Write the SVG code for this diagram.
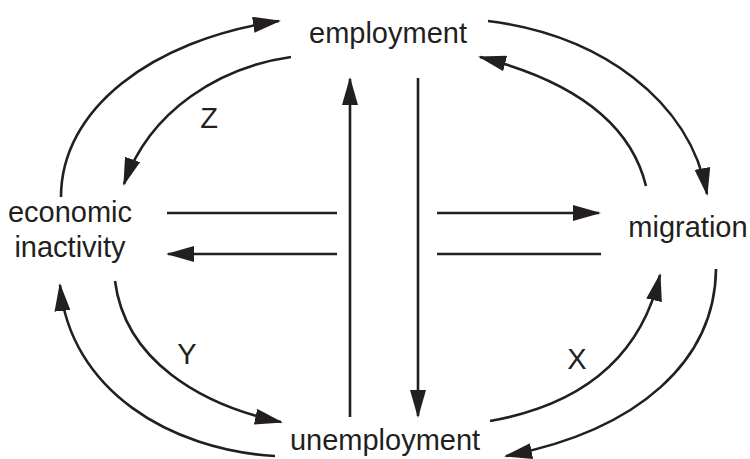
<svg xmlns="http://www.w3.org/2000/svg" width="750" height="459" viewBox="0 0 750 459">
<style>
.lbl{font-family:"Liberation Sans",Arial,sans-serif;font-size:29px;fill:#231f20;text-anchor:middle}
.ed{fill:none;stroke:#231f20;stroke-width:2.6}
.arr{marker-end:url(#ah)}
</style>
<defs>
<marker id="ah" markerUnits="userSpaceOnUse" markerWidth="28" markerHeight="16" refX="26" refY="8" orient="auto" viewBox="0 0 28 16">
<path d="M0,0 L28,8 L0,16 Z" fill="#231f20"/>
</marker>
</defs>
<rect width="750" height="459" fill="#fff"/>
<g id="employment"><text class="lbl" x="388" y="43">employment</text></g>
<g id="economic-inactivity"><text class="lbl" x="70" y="222">economic</text><text class="lbl" x="70" y="257">inactivity</text></g>
<g id="migration"><text class="lbl" x="688" y="237">migration</text></g>
<g id="unemployment"><text class="lbl" x="385" y="450">unemployment</text></g>
<g id="connectors">
<path class="ed arr" d="M61,197 C61,110 150,40 279,21"/>
<path class="ed arr" d="M291,57 C220,67 150,110 124,184"/>
<path class="ed arr" d="M488,21 C600,35 690,100 707,194"/>
<path class="ed arr" d="M646,186 C630,120 570,80 480,57"/>
<path class="ed arr" d="M275,456 C170,450 70,390 60,285"/>
<path class="ed arr" d="M115,281 C125,360 200,405 281,422"/>
<path class="ed arr" d="M490,421 C580,405 640,360 660,275"/>
<path class="ed arr" d="M716,269 C715,360 640,430 506,456"/>
<path class="ed" d="M167,213 L337,213"/>
<path class="ed arr" d="M337,254 L168,254"/>
<path class="ed arr" d="M437,213 L599,213"/>
<path class="ed" d="M437,254 L601,254"/>
<path class="ed arr" d="M350,417 L350,79"/>
<path class="ed arr" d="M418,78 L418,416"/>
</g>
<g id="labels">
<text class="lbl" x="209" y="128">Z</text>
<text class="lbl" x="187" y="364">Y</text>
<text class="lbl" x="577" y="369">X</text>
</g>
</svg>
